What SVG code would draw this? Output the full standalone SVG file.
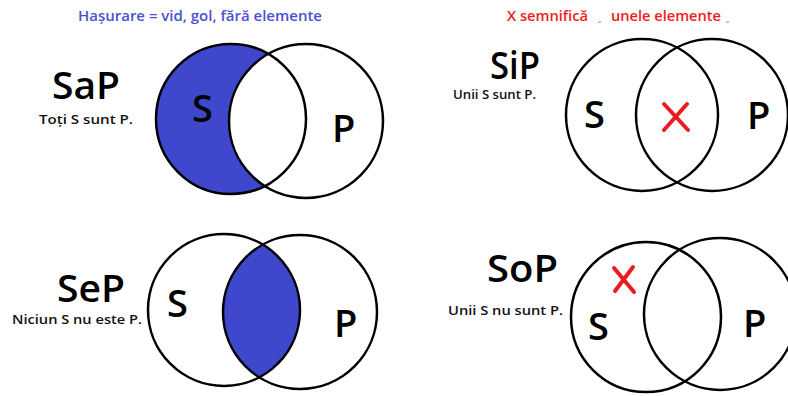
<svg xmlns="http://www.w3.org/2000/svg" width="788" height="396" viewBox="0 0 788 396">
<defs>
<style>
.c{fill:none;stroke:#000;stroke-width:2.5}
.w{fill:#fff;stroke:none}
.h{fill:#3f48cc;stroke:none}
.big{font-family:"Open Sans","Noto Sans",sans-serif;font-size:37px;font-weight:600;fill:#000}
.lab{font-family:"Open Sans","Noto Sans",sans-serif;font-size:38px;font-weight:600;fill:#000}
.sub{font-family:"Open Sans","Noto Sans",sans-serif;font-size:13px;font-weight:600;fill:#111}
.x{stroke:#ed1c24;stroke-width:4;stroke-linecap:round;fill:none}
.t1{font-family:"Open Sans","Noto Sans",sans-serif;font-size:15px;font-weight:600;fill:#4b50d0}
.t2{font-family:"Open Sans","Noto Sans",sans-serif;font-size:15px;font-weight:600;fill:#ed1c24}
.q{font-family:"Open Sans","Noto Sans",sans-serif;font-size:8px;fill:#ed1c24}
</style>
<clipPath id="clipSeS"><circle cx="224" cy="310" r="76"/></clipPath>
</defs>
<rect width="788" height="396" fill="#fff"/>

<g id="legend-shading">
<text class="t1" x="78" y="21" textLength="244" lengthAdjust="spacingAndGlyphs">Hașurare = vid, gol, fără elemente</text>
</g>
<g id="legend-x">
<text class="t2" x="507" y="21" textLength="81" lengthAdjust="spacingAndGlyphs">X semnifică</text>
<text class="q" x="598" y="22">„</text>
<text class="t2" x="611" y="21" textLength="110" lengthAdjust="spacingAndGlyphs">unele elemente</text>
<text class="q" x="726" y="22">„</text>
</g>

<g id="sap">
<text class="big" x="52" y="99" textLength="68" lengthAdjust="spacingAndGlyphs">SaP</text>
<text class="sub" x="39" y="124" textLength="94" lengthAdjust="spacingAndGlyphs">Toți S sunt P.</text>
<circle class="h" cx="231" cy="119" r="75"/>
<circle class="w" cx="306" cy="121" r="77"/>
<circle class="c" cx="231" cy="119" r="75"/>
<circle class="c" cx="306" cy="121" r="77"/>
<text class="lab" x="192" y="122">S</text>
<text class="lab" x="332" y="142">P</text>
</g>

<g id="sep">
<text class="big" x="57" y="302" textLength="68" lengthAdjust="spacingAndGlyphs">SeP</text>
<text class="sub" x="12" y="324" textLength="130" lengthAdjust="spacingAndGlyphs">Niciun S nu este P.</text>
<circle class="h" cx="300" cy="312" r="77" clip-path="url(#clipSeS)"/>
<circle class="c" cx="224" cy="310" r="76"/>
<circle class="c" cx="300" cy="312" r="77"/>
<text class="lab" x="167" y="317">S</text>
<text class="lab" x="334" y="337">P</text>
</g>

<g id="sip">
<text class="big" x="490" y="79" textLength="50" lengthAdjust="spacingAndGlyphs">SiP</text>
<text class="sub" x="453" y="99" textLength="83" lengthAdjust="spacingAndGlyphs">Unii S sunt P.</text>
<circle class="c" cx="642" cy="115" r="76"/>
<circle class="c" cx="712" cy="115" r="76"/>
<text class="lab" x="584" y="128">S</text>
<text class="lab" x="747" y="129">P</text>
<path class="x" d="M664 104 L688 130 M687 104 L664 130"/>
</g>

<g id="sop">
<text class="big" x="487" y="282" textLength="71" lengthAdjust="spacingAndGlyphs">SoP</text>
<text class="sub" x="448" y="315" textLength="115" lengthAdjust="spacingAndGlyphs">Unii S nu sunt P.</text>
<circle class="c" cx="646" cy="317" r="75"/>
<circle class="c" cx="720" cy="314" r="76"/>
<text class="lab" x="588" y="340">S</text>
<text class="lab" x="743" y="337">P</text>
<path class="x" d="M614 268 L634 292 M633 267 L615 291"/>
</g>
</svg>
